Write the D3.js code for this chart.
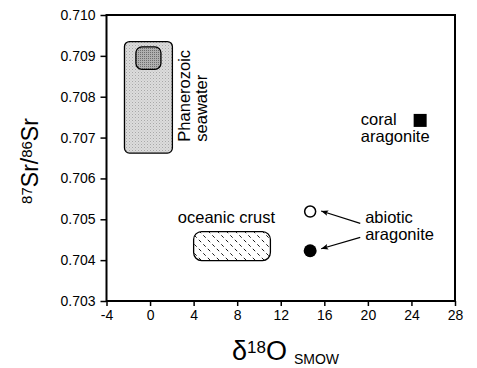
<!DOCTYPE html>
<html><head><meta charset="utf-8">
<script src="https://cdn.jsdelivr.net/npm/d3@7"></script>
<style>
html,body{margin:0;padding:0;background:#fff;}
svg{display:block;font-family:"Liberation Sans",Arial,Helvetica,sans-serif;}
</style></head>
<body>
<svg id="chart" width="477" height="368"></svg>
<script>
// ---- data ----
const xTicks = [-4, 0, 4, 8, 12, 16, 20, 24, 28];
const yTicks = [0.703, 0.704, 0.705, 0.706, 0.707, 0.708, 0.709, 0.710];
// fields: [x0, x1, y0, y1]
const seawaterField = [-2.35, 2.05, 0.70662, 0.70935];
const seawaterInner = [-1.3, 1.0, 0.70867, 0.70922];
const crustField = [4.0, 11.05, 0.70399, 0.70470];
const coralPoint = [24.8, 0.70742];
const abioticOpen = [14.7, 0.70519];
const abioticFilled = [14.7, 0.70423];

const W = 477, H = 368;
const m = {l: 106.5, r: 22, t: 15, b: 67};
const svg = d3.select("#chart");
const x = d3.scaleLinear().domain([-4, 28]).range([m.l, W - m.r]);
const y = d3.scaleLinear().domain([0.703, 0.710]).range([H - m.b, m.t]);

// patterns
const defs = svg.append("defs");
const p1 = defs.append("pattern").attr("id", "stipLight").attr("patternUnits", "userSpaceOnUse").attr("width", 3).attr("height", 3);
p1.append("rect").attr("width", 3).attr("height", 3).attr("fill", "#dcdcdc");
p1.append("rect").attr("x", 0).attr("y", 0).attr("width", 1).attr("height", 1).attr("fill", "#a8a8a8");
p1.append("rect").attr("x", 1.5).attr("y", 1.5).attr("width", 1).attr("height", 1).attr("fill", "#bdbdbd");
const p2 = defs.append("pattern").attr("id", "stipDark").attr("patternUnits", "userSpaceOnUse").attr("width", 2).attr("height", 2);
p2.append("rect").attr("width", 2).attr("height", 2).attr("fill", "#b0b0b0");
p2.append("rect").attr("width", 1).attr("height", 1).attr("fill", "#6e6e6e");
const p3 = defs.append("pattern").attr("id", "hatch").attr("patternUnits", "userSpaceOnUse").attr("width", 9).attr("height", 9);
p3.append("rect").attr("width", 9).attr("height", 9).attr("fill", "#fff");
p3.append("line").attr("x1", 0.8).attr("y1", 5.8).attr("x2", 3.2).attr("y2", 8.2).attr("stroke", "#000").attr("stroke-width", 0.9);
p3.append("line").attr("x1", 5.3).attr("y1", 1.3).attr("x2", 7.7).attr("y2", 3.7).attr("stroke", "#000").attr("stroke-width", 0.9);
defs.append("marker").attr("id", "arr").attr("viewBox", "0 0 10 10").attr("refX", 10).attr("refY", 5)
  .attr("markerWidth", 9).attr("markerHeight", 7).attr("markerUnits", "userSpaceOnUse").attr("orient", "auto")
  .append("path").attr("d", "M0,1 L10,5 L0,9 L2,5 Z").attr("fill", "#000");

// axes
const xAxis = d3.axisBottom(x).tickValues(xTicks).tickSize(5).tickSizeOuter(0).tickPadding(4).tickFormat(d => String(d));
const yAxis = d3.axisLeft(y).tickValues(yTicks).tickSize(6).tickSizeOuter(0).tickPadding(5).tickFormat(d3.format(".3f"));
const gx = svg.append("g").attr("transform", `translate(0,${H - m.b})`).call(xAxis);
const gy = svg.append("g").attr("transform", `translate(${m.l},0)`).call(yAxis);
[gx, gy].forEach(g => {
  g.select(".domain").remove();
  g.selectAll(".tick line").attr("stroke", "#000").attr("stroke-width", 1.5);
  g.selectAll(".tick text").attr("font-size", 14).attr("fill", "#000")
    .attr("font-family", "'Liberation Sans',Arial,sans-serif");
});

// frame
svg.append("rect").attr("x", x(-4)).attr("y", y(0.710)).attr("width", x(28) - x(-4)).attr("height", y(0.703) - y(0.710))
  .attr("fill", "none").attr("stroke", "#000").attr("stroke-width", 2);

// fields
function field(f, fill, r) {
  svg.append("rect").attr("x", x(f[0])).attr("y", y(f[3])).attr("width", x(f[1]) - x(f[0])).attr("height", y(f[2]) - y(f[3]))
    .attr("rx", r).attr("ry", r).attr("fill", fill).attr("stroke", "#000").attr("stroke-width", 1.3);
}
field(seawaterField, "url(#stipLight)", 5);
field(seawaterInner, "url(#stipDark)", 6);
field(crustField, "url(#hatch)", 8);

// points
svg.append("rect").attr("x", x(coralPoint[0]) - 6.5).attr("y", y(coralPoint[1]) - 6.5).attr("width", 13).attr("height", 13).attr("fill", "#000");
svg.append("circle").attr("cx", x(abioticOpen[0])).attr("cy", y(abioticOpen[1])).attr("r", 5.5).attr("fill", "#fff").attr("stroke", "#000").attr("stroke-width", 1.5);
svg.append("circle").attr("cx", x(abioticFilled[0])).attr("cy", y(abioticFilled[1])).attr("r", 6.5).attr("fill", "#000");

// annotations
const fs = 16.5;
const t1 = svg.append("text").attr("transform", `translate(${x(3.63)},${y(0.70690)}) rotate(-90)`).attr("font-size", fs);
t1.append("tspan").attr("x", 0).attr("y", 0).text("Phanerozoic");
t1.append("tspan").attr("x", 0).attr("y", 17).text("seawater");

svg.append("text").attr("x", x(2.55)).attr("y", y(0.70491)).attr("font-size", fs).text("oceanic crust");

const t2 = svg.append("text").attr("font-size", fs);
t2.append("tspan").attr("x", x(19.35)).attr("y", y(0.70730)).text("coral");
t2.append("tspan").attr("x", x(19.35)).attr("y", y(0.70730) + 17).text("aragonite");

const t3 = svg.append("text").attr("font-size", fs);
t3.append("tspan").attr("x", x(19.75)).attr("y", y(0.70490)).text("abiotic");
t3.append("tspan").attr("x", x(19.75)).attr("y", y(0.70490) + 17).text("aragonite");

// arrows
svg.append("line").attr("x1", x(19.3)).attr("y1", y(0.70490)).attr("x2", x(abioticOpen[0]) + 11).attr("y2", y(abioticOpen[1]) - 0.5)
  .attr("stroke", "#000").attr("stroke-width", 1.2).attr("marker-end", "url(#arr)");
svg.append("line").attr("x1", x(19.3)).attr("y1", y(0.70490) + 14).attr("x2", x(abioticFilled[0]) + 11).attr("y2", y(abioticFilled[1]) - 2)
  .attr("stroke", "#000").attr("stroke-width", 1.2).attr("marker-end", "url(#arr)");

// axis titles
const xl = svg.append("text").attr("x", 232).attr("y", 360).attr("fill", "#000");
xl.append("tspan").attr("font-size", 27).text("δ");
xl.append("tspan").attr("font-size", 17).attr("dy", -7).text("18");
xl.append("tspan").attr("font-size", 27).attr("dy", 7).text("O");
xl.append("tspan").attr("font-size", 14).attr("dy", 4).attr("dx", 7).text("SMOW");

const yl = svg.append("text").attr("transform", "translate(38,161) rotate(-90)").attr("text-anchor", "middle").attr("fill", "#000");
yl.append("tspan").attr("font-size", 15).attr("dy", -6).text("87");
yl.append("tspan").attr("font-size", 23).attr("dy", 6).text("Sr/");
yl.append("tspan").attr("font-size", 15).attr("dy", -6).text("86");
yl.append("tspan").attr("font-size", 23).attr("dy", 6).text("Sr");
</script>
</body></html>
